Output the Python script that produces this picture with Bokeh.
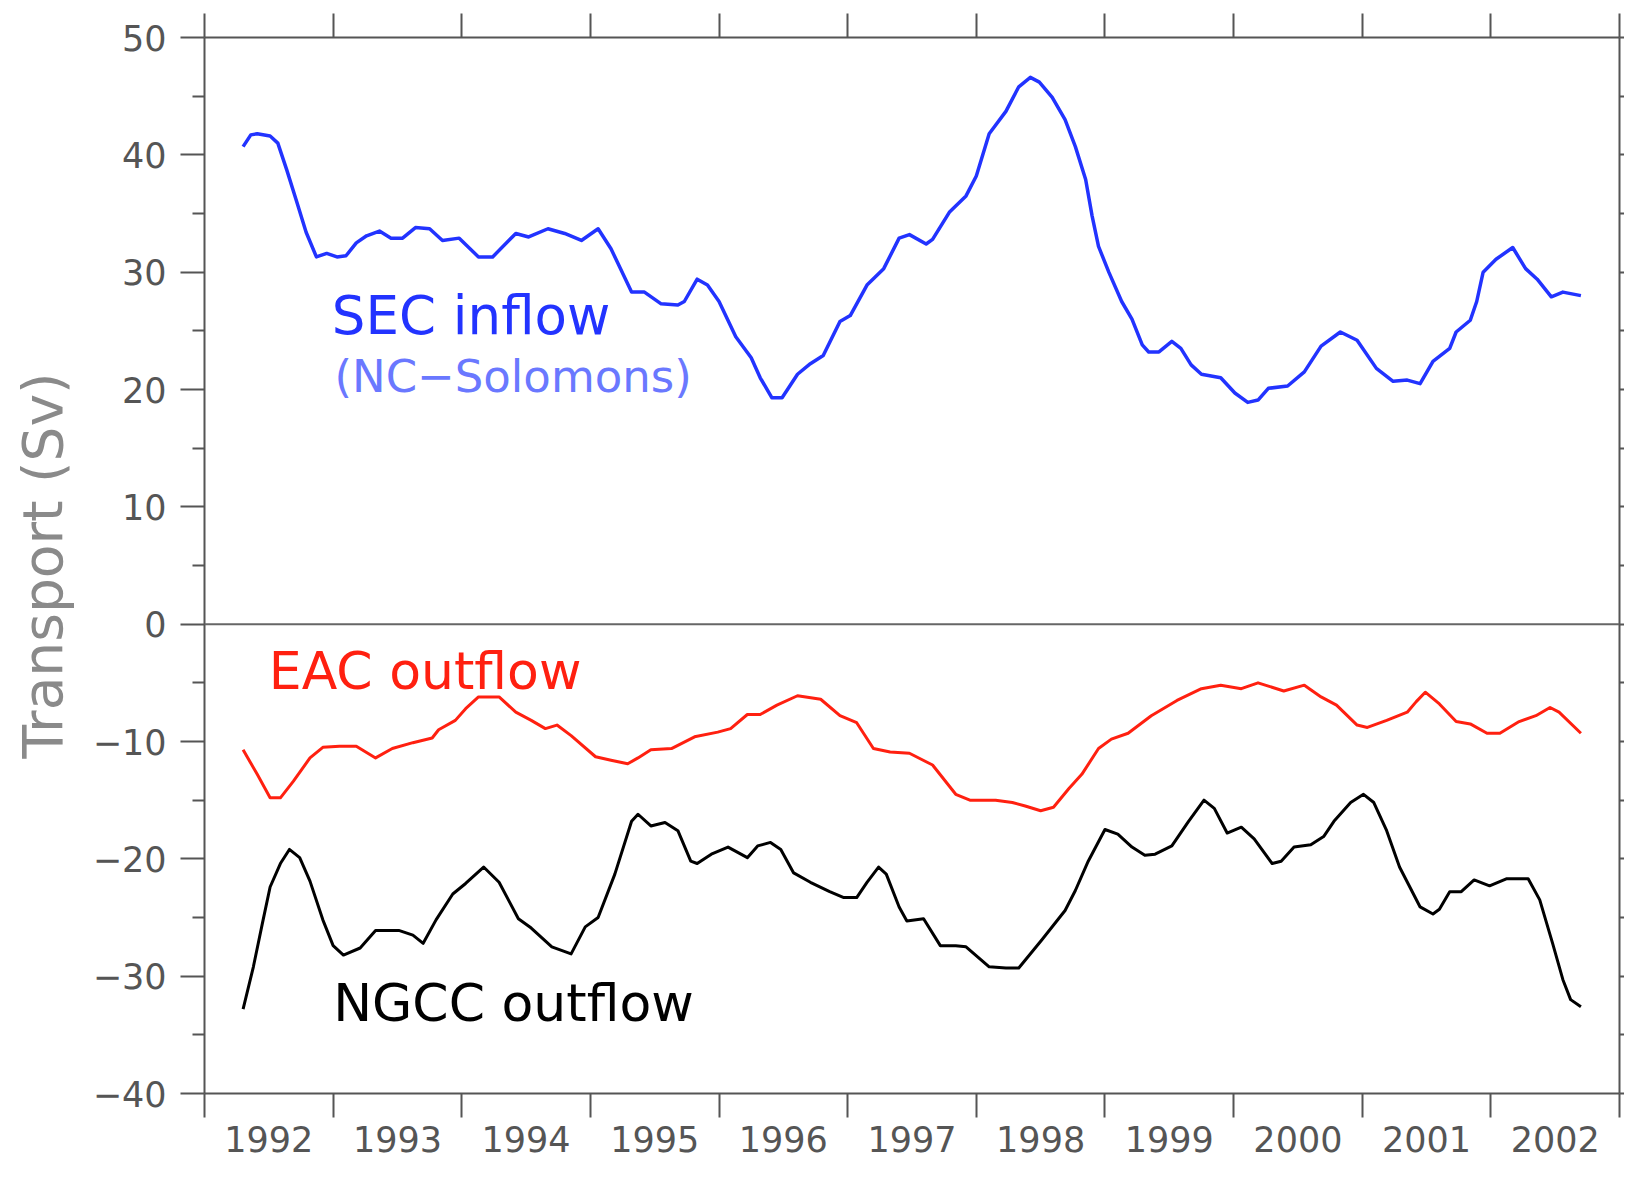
from bokeh.plotting import figure
from bokeh.models import FixedTicker, LinearAxis, Range1d, Span, Label
from bokeh.embed import file_html
from bokeh.resources import INLINE

# ---------------- data ----------------
sec_year = [1992.30, 1992.36, 1992.41, 1992.51, 1992.57, 1992.64, 1992.72, 1992.79, 1992.87, 1992.95,
            1993.03, 1993.10, 1993.18, 1993.26, 1993.36, 1993.45, 1993.54, 1993.64, 1993.75, 1993.85,
            1993.98, 1994.13, 1994.24, 1994.42, 1994.52, 1994.67, 1994.80, 1994.93, 1995.06, 1995.16,
            1995.32, 1995.42, 1995.55, 1995.68, 1995.73, 1995.83, 1995.91, 1996.00, 1996.13, 1996.25,
            1996.32, 1996.41, 1996.49, 1996.61, 1996.71, 1996.81, 1996.94, 1997.02, 1997.15, 1997.28,
            1997.40, 1997.48, 1997.61, 1997.66, 1997.79, 1997.92, 1998.00, 1998.10, 1998.23, 1998.33,
            1998.42, 1998.49, 1998.59, 1998.69, 1998.77, 1998.85, 1998.90, 1998.95, 1999.03, 1999.13,
            1999.21, 1999.29, 1999.34, 1999.42, 1999.52, 1999.59, 1999.67, 1999.75, 1999.90, 2000.01,
            2000.11, 2000.19, 2000.27, 2000.42, 2000.55, 2000.68, 2000.83, 2000.96, 2001.11, 2001.24,
            2001.35, 2001.45, 2001.55, 2001.68, 2001.73, 2001.84, 2001.89, 2001.94, 2002.04, 2002.17,
            2002.27, 2002.36, 2002.47, 2002.56, 2002.70]
sec_sv = [40.7, 41.7, 41.8, 41.6, 41.0, 38.7, 35.9, 33.4, 31.3, 31.6,
          31.3, 31.4, 32.5, 33.1, 33.5, 32.9, 32.9, 33.8, 33.7, 32.7,
          32.9, 31.3, 31.3, 33.3, 33.0, 33.7, 33.3, 32.7, 33.7, 32.0,
          28.3, 28.3, 27.3, 27.2, 27.5, 29.4, 28.9, 27.5, 24.5, 22.7,
          21.0, 19.3, 19.3, 21.3, 22.2, 22.9, 25.8, 26.3, 28.9, 30.3,
          32.9, 33.2, 32.4, 32.8, 35.1, 36.5, 38.2, 41.8, 43.7, 45.8,
          46.6, 46.2, 44.9, 43.0, 40.7, 37.9, 34.8, 32.2, 30.0, 27.5,
          26.0, 23.8, 23.2, 23.2, 24.1, 23.5, 22.1, 21.3, 21.0, 19.7,
          18.9, 19.1, 20.1, 20.3, 21.5, 23.7, 24.9, 24.2, 21.8, 20.7,
          20.8, 20.5, 22.4, 23.5, 24.9, 25.9, 27.5, 30.0, 31.1, 32.1,
          30.3, 29.4, 27.9, 28.3, 28.0]

eac_year = [1992.30, 1992.41, 1992.51, 1992.59, 1992.69, 1992.82, 1992.92, 1993.05, 1993.18, 1993.33,
            1993.46, 1993.62, 1993.77, 1993.82, 1993.95, 1994.03, 1994.13, 1994.29, 1994.42, 1994.54,
            1994.65, 1994.74, 1994.85, 1995.04, 1995.16, 1995.29, 1995.37, 1995.47, 1995.63, 1995.81,
            1995.99, 1996.09, 1996.22, 1996.32, 1996.45, 1996.61, 1996.79, 1996.94, 1997.07, 1997.20,
            1997.33, 1997.48, 1997.66, 1997.84, 1997.95, 1998.15, 1998.28, 1998.38, 1998.50, 1998.60,
            1998.72, 1998.82, 1998.95, 1999.05, 1999.18, 1999.36, 1999.56, 1999.75, 1999.90, 2000.06,
            2000.19, 2000.39, 2000.55, 2000.68, 2000.80, 2000.96, 2001.04, 2001.19, 2001.35, 2001.42,
            2001.49, 2001.60, 2001.73, 2001.84, 2001.97, 2002.07, 2002.22, 2002.35, 2002.46, 2002.53,
            2002.70]
eac_sv = [-10.7, -12.8, -14.8, -14.8, -13.4, -11.4, -10.5, -10.4, -10.4, -11.4,
          -10.6, -10.1, -9.7, -9.0, -8.2, -7.2, -6.2, -6.2, -7.5, -8.2,
          -8.9, -8.6, -9.5, -11.3, -11.6, -11.9, -11.4, -10.7, -10.6, -9.6,
          -9.2, -8.9, -7.7, -7.7, -6.9, -6.1, -6.4, -7.8, -8.4, -10.6,
          -10.9, -11.0, -12.0, -14.5, -15.0, -15.0, -15.2, -15.5, -15.9, -15.6,
          -14.0, -12.8, -10.6, -9.8, -9.3, -7.8, -6.5, -5.5, -5.2, -5.5,
          -5.0, -5.7, -5.2, -6.2, -6.9, -8.6, -8.8, -8.2, -7.5, -6.6,
          -5.8, -6.8, -8.3, -8.5, -9.3, -9.3, -8.3, -7.8, -7.1, -7.5,
          -9.3]

ngcc_year = [1992.30, 1992.38, 1992.45, 1992.51, 1992.59, 1992.66, 1992.74, 1992.82, 1992.92, 1993.00,
             1993.08, 1993.21, 1993.33, 1993.51, 1993.62, 1993.70, 1993.80, 1993.93, 1994.03, 1994.17,
             1994.29, 1994.44, 1994.54, 1994.70, 1994.85, 1994.96, 1995.06, 1995.19, 1995.32, 1995.37,
             1995.47, 1995.58, 1995.68, 1995.78, 1995.83, 1995.94, 1996.07, 1996.22, 1996.30, 1996.40,
             1996.48, 1996.58, 1996.71, 1996.86, 1996.97, 1997.07, 1997.15, 1997.24, 1997.30, 1997.40,
             1997.46, 1997.59, 1997.72, 1997.84, 1997.92, 1998.10, 1998.23, 1998.33, 1998.51, 1998.69,
             1998.77, 1998.87, 1999.00, 1999.10, 1999.21, 1999.31, 1999.39, 1999.52, 1999.65, 1999.77,
             1999.85, 1999.95, 2000.06, 2000.16, 2000.30, 2000.37, 2000.47, 2000.60, 2000.70, 2000.78,
             2000.91, 2001.01, 2001.09, 2001.19, 2001.29, 2001.45, 2001.55, 2001.60, 2001.68, 2001.77,
             2001.87, 2001.99, 2002.12, 2002.29, 2002.38, 2002.48, 2002.56, 2002.62, 2002.70]
ngcc_sv = [-32.8, -29.2, -25.5, -22.4, -20.4, -19.2, -19.9, -21.9, -25.2, -27.4,
           -28.2, -27.6, -26.1, -26.1, -26.5, -27.2, -25.2, -23.0, -22.1, -20.7,
           -22.0, -25.1, -25.9, -27.5, -28.1, -25.8, -25.0, -21.3, -16.8, -16.2,
           -17.2, -16.9, -17.6, -20.2, -20.4, -19.6, -19.0, -19.9, -18.9, -18.6,
           -19.2, -21.2, -22.0, -22.8, -23.3, -23.3, -22.0, -20.7, -21.3, -24.1,
           -25.3, -25.1, -27.4, -27.4, -27.5, -29.2, -29.3, -29.3, -26.9, -24.4,
           -22.7, -20.2, -17.5, -17.9, -19.0, -19.7, -19.6, -18.9, -16.8, -15.0,
           -15.7, -17.8, -17.3, -18.3, -20.4, -20.2, -19.0, -18.8, -18.1, -16.8,
           -15.2, -14.5, -15.2, -17.6, -20.7, -24.1, -24.7, -24.3, -22.8, -22.8,
           -21.8, -22.3, -21.7, -21.7, -23.5, -27.2, -30.3, -32.0, -32.6]

year_edges = [1992, 1993, 1994, 1995, 1996, 1997, 1998, 1999, 2000, 2001, 2002, 2003]
year_label_pos = [1992.5, 1993.5, 1994.5, 1995.5, 1996.5, 1997.5, 1998.5, 1999.5, 2000.5, 2001.5, 2002.5]
year_labels = ["1992", "1993", "1994", "1995", "1996", "1997", "1998", "1999", "2000", "2001", "2002"]
y_ticks = [-40, -30, -20, -10, 0, 10, 20, 30, 40, 50]
y_tick_labels = ["\u221240", "\u221230", "\u221220", "\u221210", "0", "10", "20", "30", "40", "50"]
y_minor = [-35, -25, -15, -5, 5, 15, 25, 35, 45]

# ---------------- styling ----------------
FONT = "DejaVu Sans"
AXIS_COL = "#555555"
TICK_TXT = "#555555"

p = figure(width=1624, height=1163, output_backend="svg", toolbar_location=None,
           x_range=Range1d(1992, 2003), y_range=Range1d(-40, 50),
           x_axis_location=None, y_axis_location=None,
           min_border_left=204, min_border_right=5, min_border_top=37, min_border_bottom=70)
p.grid.grid_line_color = None
p.outline_line_color = None
p.background_fill_color = "white"
p.border_fill_color = "white"


def style_axis(ax):
    ax.axis_line_color = AXIS_COL
    ax.axis_line_width = 2
    ax.major_tick_line_color = AXIS_COL
    ax.major_tick_line_width = 2
    ax.minor_tick_line_color = AXIS_COL
    ax.minor_tick_line_width = 2
    ax.major_tick_in = 0
    ax.minor_tick_in = 0
    ax.major_label_text_font = FONT
    ax.major_label_text_color = TICK_TXT


# bottom axis: labels at mid-year, tick marks at year boundaries
xb = LinearAxis(ticker=FixedTicker(ticks=year_label_pos, minor_ticks=year_edges),
                major_label_overrides={v: s for v, s in zip(year_label_pos, year_labels)})
style_axis(xb)
xb.major_tick_out = 0
xb.minor_tick_out = 24
xb.major_label_text_font_size = "35px"
xb.major_label_standoff = 8
p.add_layout(xb, "below")

# top axis: ticks only
xt = LinearAxis(ticker=FixedTicker(ticks=year_edges, minor_ticks=[]))
style_axis(xt)
xt.major_tick_out = 24
xt.major_label_text_font_size = "0px"
xt.major_label_standoff = 0
xt.major_label_overrides = {v: "" for v in year_edges}
p.add_layout(xt, "above")

# left axis
yl = LinearAxis(ticker=FixedTicker(ticks=y_ticks, minor_ticks=y_minor),
                major_label_overrides={v: s for v, s in zip(y_ticks, y_tick_labels)},
                axis_label="Transport (Sv)")
style_axis(yl)
yl.major_tick_out = 24
yl.minor_tick_out = 12
yl.major_label_text_font_size = "35px"
yl.major_label_standoff = 14
yl.axis_label_text_font = FONT
yl.axis_label_text_font_size = "55px"
yl.axis_label_text_font_style = "normal"
yl.axis_label_text_color = "#8a8a8a"
yl.axis_label_standoff = 15
p.add_layout(yl, "left")

# right axis: ticks only
yr = LinearAxis(ticker=FixedTicker(ticks=y_ticks, minor_ticks=y_minor))
style_axis(yr)
yr.major_tick_out = 5
yr.minor_tick_out = 5
yr.major_label_text_font_size = "0px"
yr.major_label_standoff = 0
yr.major_label_overrides = {v: "" for v in y_ticks}
p.add_layout(yr, "right")

# zero line
p.add_layout(Span(location=0, dimension="width", line_color="#666666", line_width=2))

# series
p.line(sec_year, sec_sv, line_color="#2233ff", line_width=3.5, line_join="round")
p.line(eac_year, eac_sv, line_color="#ff2010", line_width=3, line_join="round")
p.line(ngcc_year, ngcc_sv, line_color="black", line_width=3, line_join="round")

# in-plot labels
p.add_layout(Label(x=1992.99, y=26.3, text="SEC inflow", text_font=FONT, text_font_size="53px",
                   text_color="#2233ff", text_baseline="alphabetic", text_align="left"))
p.add_layout(Label(x=1993.01, y=21.1, text="(NC\u2212Solomons)", text_font=FONT, text_font_size="45px",
                   text_color="#6a78ff", text_baseline="alphabetic", text_align="left"))
p.add_layout(Label(x=1992.50, y=-4.0, text="EAC outflow", text_font=FONT, text_font_size="52px",
                   text_color="#ff2010", text_baseline="alphabetic", text_align="left"))
p.add_layout(Label(x=1993.00, y=-32.25, text="NGCC outflow", text_font=FONT, text_font_size="52px",
                   text_color="black", text_baseline="alphabetic", text_align="left"))

open("out.html", "w").write(file_html(p, INLINE))
